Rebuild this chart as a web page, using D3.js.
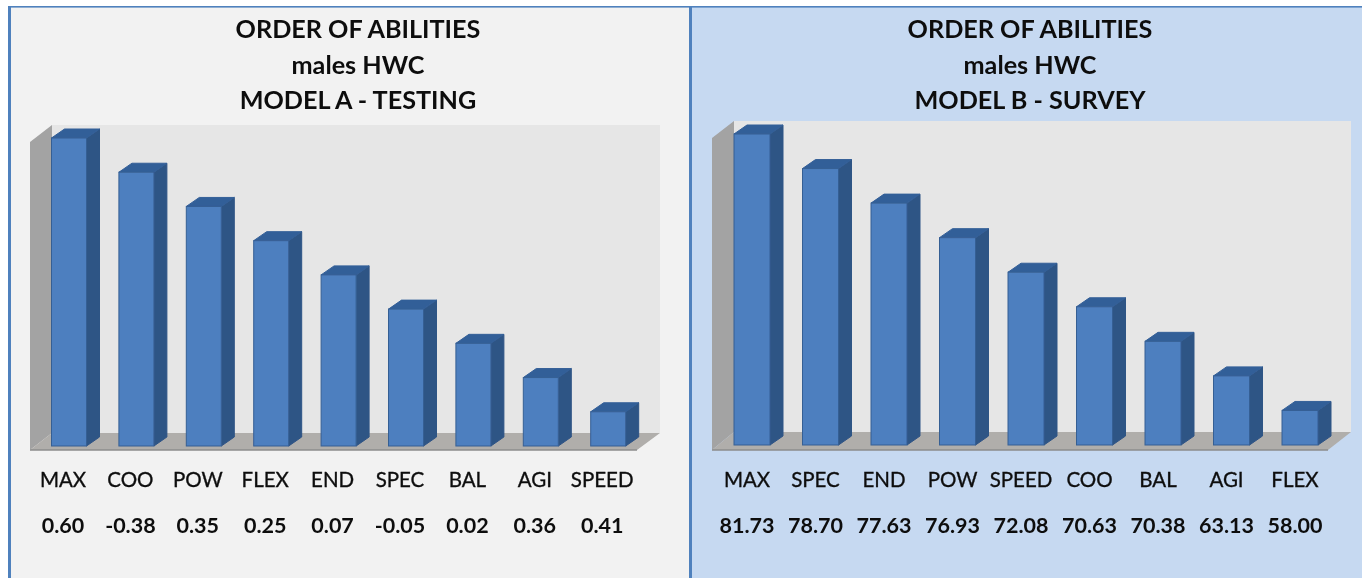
<!DOCTYPE html>
<html><head><meta charset="utf-8">
<script src="https://cdn.jsdelivr.net/npm/d3@7/dist/d3.min.js"></script>
<style>html,body{margin:0;padding:0;background:#fff;overflow:hidden}svg{display:block}text{font-family:Lato,"Open Sans",sans-serif;fill:#111}</style>
</head><body><svg id="c" width="1362" height="578"></svg>
<script>
const titlesA = ["ORDER OF ABILITIES", "males HWC", "MODEL A - TESTING"];
const categoriesA = ["MAX","COO","POW","FLEX","END","SPEC","BAL","AGI","SPEED"];
const labelsA = ["0.60","-0.38","0.35","0.25","0.07","-0.05","0.02","0.36","0.41"];
const ranksA = [9,8,7,6,5,4,3,2,1];
const titlesB = ["ORDER OF ABILITIES", "males HWC", "MODEL B - SURVEY"];
const categoriesB = ["MAX","SPEC","END","POW","SPEED","COO","BAL","AGI","FLEX"];
const labelsB = ["81.73","78.70","77.63","76.93","72.08","70.63","70.38","63.13","58.00"];
const ranksB = [9,8,7,6,5,4,3,2,1];

const svg = d3.select("#c");
const defs = svg.append("defs");
defs.append("filter").attr("id","soft").append("feGaussianBlur").attr("stdDeviation",0.45);

function panel(p){
  const g = svg.append("g");
  g.append("rect").attr("x",p.x0).attr("y",7).attr("width",p.x1-p.x0).attr("height",571).attr("fill",p.bg);
  const x = d3.scaleBand().domain(p.cats).range([p.barL, p.barL+p.step*8+p.barW]).paddingInner(1-p.barW/p.step).paddingOuter(0).align(0);
  const y = d3.scaleLinear().domain([0,9]).range([p.base,p.top9]);
  const dx = 13, dy = 9;
  const c = g.append("g").attr("filter","url(#soft)");
  c.append("rect").attr("x",p.wallX).attr("y",p.wallTop).attr("width",p.floorR-p.wallX).attr("height",p.floorBack-p.wallTop).attr("fill","#e6e6e6");
  c.append("polygon").attr("points",[[p.wallL,p.wallTop+17],[p.wallX,p.wallTop],[p.wallX,p.floorBack],[p.wallL,p.floorY]].join(" ")).attr("fill","#a3a3a3");
  c.append("polygon").attr("points",[[p.wallL,p.floorY],[p.wallX,p.floorBack],[p.floorR,p.floorBack],[p.floorR-23,p.floorY]].join(" ")).attr("fill","#b0aeab");
  c.append("line").attr("x1",p.wallL).attr("x2",p.floorR-23).attr("y1",p.floorY).attr("y2",p.floorY).attr("stroke","#8c8c8c").attr("stroke-width",1.5);
  const bars = c.selectAll("g.bar").data(p.cats.map((k,i)=>({k,v:p.ranks[i]}))).join("g").attr("class","bar");
  const bw = x.bandwidth();
  bars.append("polygon").attr("fill","#2f5485").attr("stroke","#2f5485").attr("stroke-width",1).attr("stroke-linejoin","round")
    .attr("points",d=>{const a=x(d.k),t=y(d.v);return [[a+bw,t],[a+bw+dx,t-dy],[a+bw+dx,p.base-dy],[a+bw,p.base]].join(" ")});
  bars.append("polygon").attr("fill","#335f98").attr("stroke","#335f98").attr("stroke-width",1).attr("stroke-linejoin","round")
    .attr("points",d=>{const a=x(d.k),t=y(d.v);return [[a,t],[a+dx,t-dy],[a+bw+dx,t-dy],[a+bw,t]].join(" ")});
  bars.append("rect").attr("x",d=>x(d.k)).attr("y",d=>y(d.v)).attr("width",bw).attr("height",d=>p.base-y(d.v)).attr("fill","#4d7fbf").attr("stroke","#365f94").attr("stroke-width",1);
  const t = g.append("g").attr("filter","url(#soft)");
  t.selectAll("text.title").data(p.titles).join("text").attr("class","title")
    .attr("x",p.titleX).attr("y",(d,i)=>38+i*35.5).attr("text-anchor","middle").attr("font-size",25.2).attr("font-weight",700).text(d=>d);
  t.selectAll("text.cat").data(p.cats).join("text").attr("class","cat")
    .attr("x",d=>x(d)+bw/2+p.lblShift).attr("y",487).attr("text-anchor","middle").attr("font-size",20.5).attr("stroke","#111").attr("stroke-width",0.35).text(d=>d);
  t.selectAll("text.val").data(p.labels).join("text").attr("class","val")
    .attr("x",(d,i)=>x(p.cats[i])+bw/2+p.lblShift).attr("y",533).attr("text-anchor","middle").attr("font-size",21.5).attr("font-weight",700).text(d=>d);
}
panel({x0:8,x1:690,bg:"#f2f2f2",cats:categoriesA,labels:labelsA,ranks:ranksA,titles:titlesA,titleX:358,
  barL:51.5,barW:35,step:67.4,base:446,top9:138,wallL:30,wallX:52,wallTop:125,floorBack:433,floorY:450,floorR:660,lblShift:-6});
panel({x0:690,x1:1362,bg:"#c6d9f1",cats:categoriesB,labels:labelsB,ranks:ranksB,titles:titlesB,titleX:1030,
  barL:734,barW:36,step:68.5,base:445,top9:134,wallL:712,wallX:734,wallTop:121,floorBack:432,floorY:450,floorR:1351,lblShift:-5});
svg.append("rect").attr("x",8).attr("y",6).attr("width",1354).attr("height",1.6).attr("fill","#4f81bd");
svg.append("rect").attr("x",8).attr("y",6).attr("width",3).attr("height",572).attr("fill","#4f81bd");
svg.append("rect").attr("x",689).attr("y",6).attr("width",3).attr("height",572).attr("fill","#4f81bd");
</script></body></html>
